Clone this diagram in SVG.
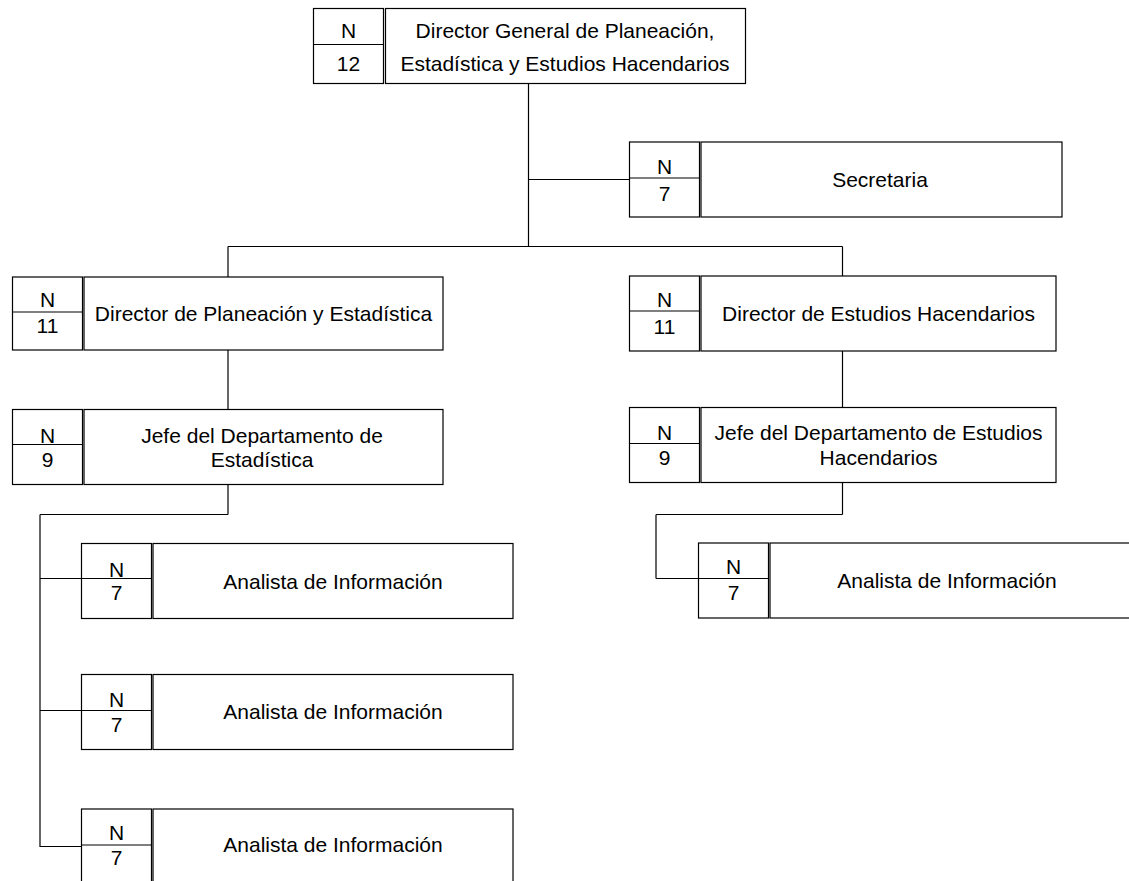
<svg xmlns="http://www.w3.org/2000/svg" width="1129" height="881" viewBox="0 0 1129 881">
<style>
.b{fill:#fff;stroke:#000;stroke-width:1.2}
.d{stroke:#000;stroke-width:1.2}
.c line{stroke:#000;stroke-width:1.2}
text{font-family:"Liberation Sans",Arial,sans-serif;font-size:21px;fill:#000;text-anchor:middle}
</style>
<rect width="1129" height="881" fill="#fff"/>
<g class="c" id="connectors">
<line x1="528.5" y1="83" x2="528.5" y2="247"/>
<line x1="528.5" y1="179.5" x2="629.5" y2="179.5"/>
<line x1="228" y1="246.5" x2="842.5" y2="246.5"/>
<line x1="228" y1="246.5" x2="228" y2="277"/>
<line x1="842.5" y1="246.5" x2="842.5" y2="276"/>
<line x1="228" y1="350" x2="228" y2="409.5"/>
<line x1="842.5" y1="351" x2="842.5" y2="407.5"/>
<line x1="228" y1="484.5" x2="228" y2="514.5"/>
<line x1="40" y1="514.5" x2="228" y2="514.5"/>
<line x1="40" y1="514.5" x2="40" y2="847"/>
<line x1="40" y1="578.5" x2="81.5" y2="578.5"/>
<line x1="40" y1="710.5" x2="81.5" y2="710.5"/>
<line x1="40" y1="846.5" x2="81.5" y2="846.5"/>
<line x1="842.5" y1="482.5" x2="842.5" y2="514.5"/>
<line x1="656" y1="514.5" x2="842.5" y2="514.5"/>
<line x1="656" y1="514.5" x2="656" y2="578.5"/>
<line x1="656" y1="578.5" x2="698.5" y2="578.5"/>
</g>
<g id="n-top">
<rect class="b" x="313.5" y="8.5" width="70" height="75"/>
<line class="d" x1="313.5" y1="44.5" x2="383.5" y2="44.5"/>
<rect class="b" x="385.5" y="8.5" width="360" height="75"/>
<text x="348.5" y="38">N</text><text x="348.5" y="71">12</text>
<text x="565" y="38">Director General de Planeación,</text>
<text x="565" y="71">Estadística y Estudios Hacendarios</text>
</g>
<g id="n-secretaria">
<rect class="b" x="629.5" y="142" width="70" height="75"/>
<line class="d" x1="629.5" y1="178" x2="699.5" y2="178"/>
<rect class="b" x="701" y="142" width="361" height="75"/>
<text x="664.5" y="174">N</text><text x="664.5" y="201">7</text>
<text x="880" y="187">Secretaria</text>
</g>
<g id="n-dir-plan">
<rect class="b" x="12.5" y="277" width="70" height="73"/>
<line class="d" x1="12.5" y1="312" x2="82.5" y2="312"/>
<rect class="b" x="84" y="277" width="359" height="73"/>
<text x="47.5" y="307">N</text><text x="47.5" y="333">11</text>
<text x="263.5" y="321">Director de Planeación y Estadística</text>
</g>
<g id="n-dir-est">
<rect class="b" x="629.5" y="276" width="70" height="75"/>
<line class="d" x1="629.5" y1="311" x2="699.5" y2="311"/>
<rect class="b" x="701" y="276" width="355" height="75"/>
<text x="664.5" y="306.5">N</text><text x="664.5" y="334">11</text>
<text x="878.5" y="321">Director de Estudios Hacendarios</text>
</g>
<g id="n-jefe-est">
<rect class="b" x="12.5" y="409.5" width="70" height="75"/>
<line class="d" x1="12.5" y1="444.5" x2="82.5" y2="444.5"/>
<rect class="b" x="84" y="409.5" width="359" height="75"/>
<text x="47.5" y="443">N</text><text x="47.5" y="467">9</text>
<text x="262" y="443">Jefe del Departamento de</text>
<text x="262" y="467">Estadística</text>
</g>
<g id="n-jefe-hac">
<rect class="b" x="629.5" y="407.5" width="70" height="75"/>
<line class="d" x1="629.5" y1="443.5" x2="699.5" y2="443.5"/>
<rect class="b" x="701" y="407.5" width="355" height="75"/>
<text x="664.5" y="439.5">N</text><text x="664.5" y="465">9</text>
<text x="878.5" y="439.5">Jefe del Departamento de Estudios</text>
<text x="878.5" y="465">Hacendarios</text>
</g>
<g id="n-analista-1">
<rect class="b" x="81.5" y="543.5" width="70" height="75"/>
<line class="d" x1="81.5" y1="578.5" x2="151.5" y2="578.5"/>
<rect class="b" x="153" y="543.5" width="360" height="75"/>
<text x="116.5" y="576.5">N</text><text x="116.5" y="600">7</text>
<text x="333" y="589">Analista de Información</text>
</g>
<g id="n-analista-2">
<rect class="b" x="81.5" y="674.5" width="70" height="75"/>
<line class="d" x1="81.5" y1="710.5" x2="151.5" y2="710.5"/>
<rect class="b" x="153" y="674.5" width="360" height="75"/>
<text x="116.5" y="706.5">N</text><text x="116.5" y="732">7</text>
<text x="333" y="719">Analista de Información</text>
</g>
<g id="n-analista-3">
<rect class="b" x="81.5" y="809" width="70" height="75"/>
<line class="d" x1="81.5" y1="845" x2="151.5" y2="845"/>
<rect class="b" x="153" y="809" width="360" height="75"/>
<text x="116.5" y="840">N</text><text x="116.5" y="865">7</text>
<text x="333" y="852">Analista de Información</text>
</g>
<g id="n-analista-r">
<rect class="b" x="698.5" y="543" width="70" height="75"/>
<line class="d" x1="698.5" y1="578.5" x2="768.5" y2="578.5"/>
<rect class="b" x="770" y="543" width="362" height="75"/>
<text x="733.5" y="574">N</text><text x="733.5" y="600">7</text>
<text x="947" y="588">Analista de Información</text>
</g>
</svg>
